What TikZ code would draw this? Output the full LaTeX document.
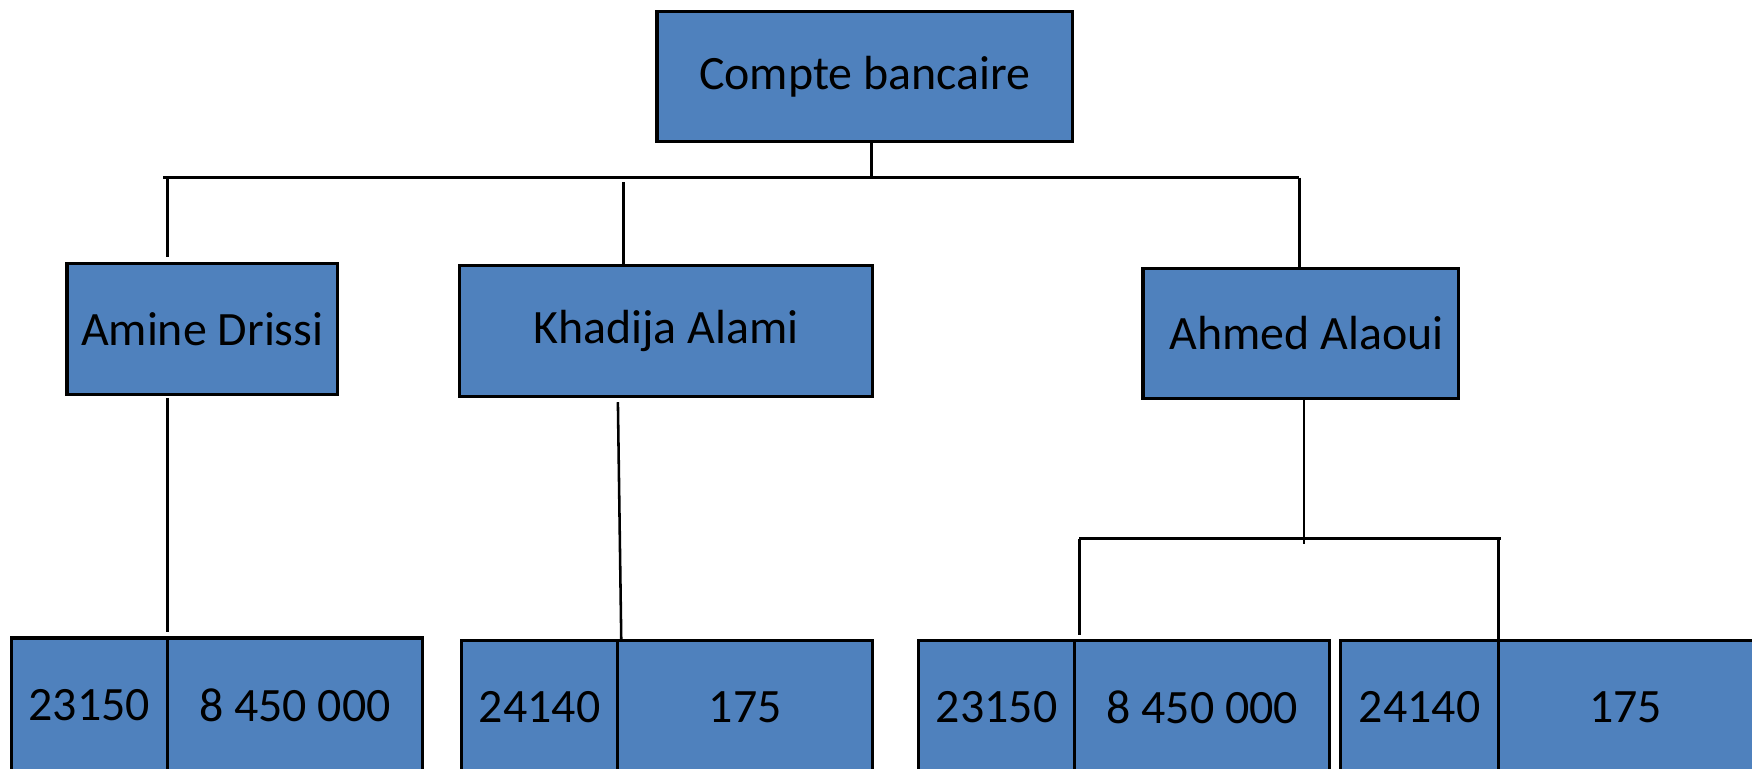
\documentclass[tikz,border=0pt]{standalone}
\usepackage{fontspec}
\setmainfont{Carlito}
\usepackage{xcolor}
\usetikzlibrary{positioning}
\definecolor{boxblue}{HTML}{4F81BD}
\tikzset{
  entity/.style={draw=black, line width=0.8pt, fill=boxblue, minimum height=1.17cm,
    inner sep=0pt, outer sep=0pt, font=\fontsize{12.2}{14}\selectfont},
  cell/.style={entity, minimum height=1.2cm, anchor=north west},
  link/.style={line width=0.65pt},
  bus/.style={line width=0.9pt}
}
\begin{document}
\begin{tikzpicture}
\useasboundingbox (0,0) rectangle (15.68,-6.88);
\clip (0,0) rectangle (15.68,-6.88);
            % root and owners
            \node[entity, minimum width=3.72cm] (compte) at (7.74, -0.685) {Compte bancaire};
            \node[entity, minimum width=2.42cm] (amine) at (1.81, -2.945) {Amine Drissi};
            \node[entity, minimum width=3.70cm] (khadija) at (5.96, -2.965) {Khadija Alami};
            \node[entity, minimum width=2.82cm] (ahmed) at (11.64, -2.985) {\hspace{0.11cm}Ahmed Alaoui};
            % accounts: number and balance
            \node[cell, minimum width=1.40cm] (num1) at (0.10, -5.71) {23150};
            \node[cell, minimum width=2.28cm] (bal1) at (num1.north east) {8 450 000};
            \node[cell, minimum width=1.40cm] (num2) at (4.13, -5.73) {24140};
            \node[cell, minimum width=2.28cm] (bal2) at (num2.north east) {175};
            \node[cell, minimum width=1.40cm] (num3) at (8.22, -5.73) {23150};
            \node[cell, minimum width=2.28cm] (bal3) at (num3.north east) {8 450 000};
            \node[cell, minimum width=1.41cm] (num4) at (12.00, -5.73) {24140};
            \node[cell, minimum width=2.28cm] (bal4) at (num4.north east) {175};
            % junction points
            \coordinate (busW) at (1.46, -1.59);
            \coordinate (busE) at (11.63, -1.59);
            \coordinate (busC) at (7.80, -1.59);
            \coordinate (amineTop) at (1.50, -2.30);
            \coordinate (khadijaIn) at (5.58, -1.63);
            \coordinate (amineLow) at (1.50, -3.56);
            \coordinate (amineEnd) at (1.50, -5.66);
            \coordinate (khadijaLow) at (5.53, -3.60);
            \coordinate (khadijaEnd) at (5.56, -5.72);
            \coordinate (ahmedLow) at (11.67, -3.57);
            \coordinate (subW) at (9.66, -4.82);
            \coordinate (subE) at (13.43, -4.82);
            \coordinate (subMid) at (11.67, -4.87);
            \coordinate (leftEnd) at (9.66, -5.68);
            % connectors
            \draw[bus] (busW) -- (busE);
            \draw[link] (busC |- compte.south) -- (busC);
            \draw[link] (amineTop |- busW) -- (amineTop);
            \draw[link] (khadijaIn) -- (khadijaIn |- khadija.north);
            \draw[link] (busE) -- (busE |- ahmed.north);
            \draw[link] (amineLow) -- (amineEnd);
            \draw[link] (khadijaLow) -- (khadijaEnd);
            \draw[link] (ahmedLow) -- (subMid);
            \draw[bus] (subW) -- (subE);
            \draw[link] (subW) -- (leftEnd);
            \draw[link] (subW -| bal4.north west) -- (bal4.north west);
          \end{tikzpicture}
\end{document}
